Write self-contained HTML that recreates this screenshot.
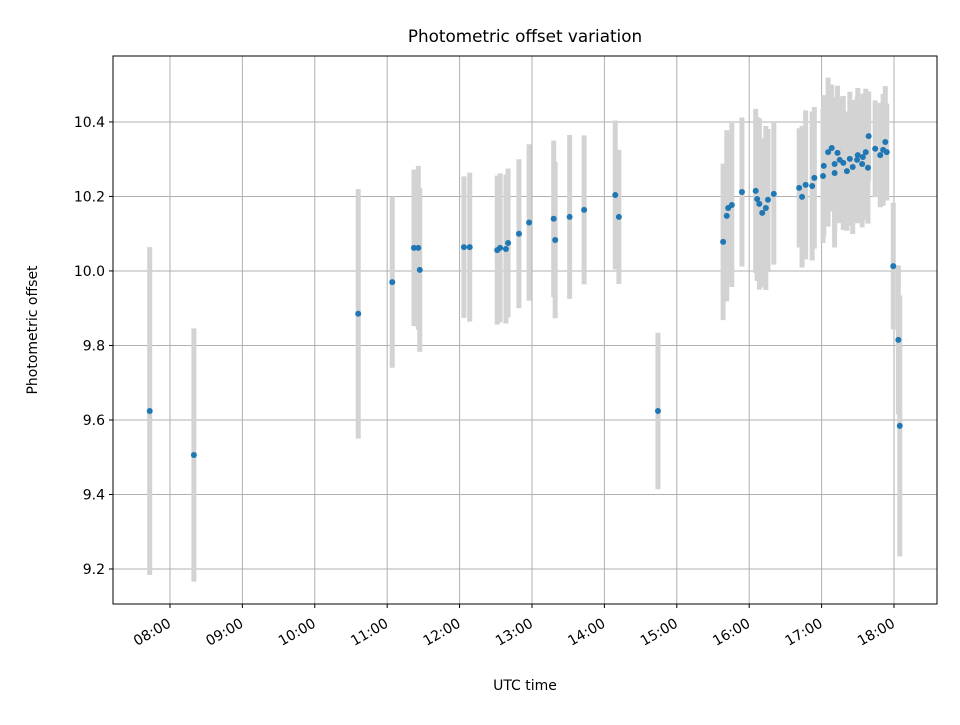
<!DOCTYPE html>
<html><head><meta charset="utf-8"><style>
body{margin:0;background:#fff;font-family:"Liberation Sans","DejaVu Sans",sans-serif}
svg text{font-family:"DejaVu Sans","Liberation Sans",sans-serif;fill:#000}
</style></head><body>
<svg id="chart" width="960" height="720" viewBox="0 0 960 720" xmlns="http://www.w3.org/2000/svg">
<rect width="960" height="720" fill="#fff"/>
<text x="525" y="42" text-anchor="middle" font-size="16.8">Photometric offset variation</text>
<text x="525" y="690" text-anchor="middle" font-size="14">UTC time</text>
<text transform="translate(37,330) rotate(-90)" text-anchor="middle" font-size="14">Photometric offset</text>
<g id="grid"></g>
<g id="bars"></g>
<g id="pts"></g>
<g id="ticks"></g>
<rect x="113" y="56" width="824" height="548" fill="none" stroke="#000" stroke-width="1"/>
</svg>
<script>
const times=[7.72,8.33,10.60,11.07,11.37,11.43,11.45,12.06,12.14,12.52,12.56,12.64,12.67,12.82,12.96,13.30,13.32,13.52,13.72,14.15,14.20,14.74,
15.64,15.69,15.71,15.76,15.90,16.09,16.11,16.14,16.18,16.23,16.26,16.34,16.69,16.73,16.78,16.87,16.90,17.02,17.03,17.09,17.14,17.18,17.18,17.22,17.25,17.30,17.35,17.39,17.43,17.49,17.50,17.56,17.57,17.61,17.64,17.65,17.74,17.81,17.85,17.88,17.90,17.99,18.06,18.08];
const offsets=[9.624,9.506,9.885,9.970,10.062,10.062,10.003,10.064,10.064,10.056,10.062,10.059,10.075,10.100,10.130,10.140,10.083,10.145,10.164,10.204,10.145,9.624,
10.078,10.148,10.169,10.177,10.212,10.215,10.193,10.180,10.156,10.169,10.191,10.207,10.223,10.199,10.231,10.228,10.250,10.255,10.282,10.319,10.330,10.263,10.287,10.317,10.298,10.290,10.268,10.301,10.279,10.298,10.311,10.287,10.306,10.319,10.277,10.362,10.328,10.311,10.325,10.346,10.319,10.013,9.815,9.584];
const errors=[0.44,0.34,0.335,0.23,0.21,0.22,0.22,0.19,0.2,0.2,0.2,0.2,0.2,0.2,0.21,0.21,0.21,0.22,0.2,0.2,0.18,0.21,
0.21,0.23,0.2,0.22,0.2,0.22,0.22,0.23,0.2,0.22,0.19,0.19,0.16,0.19,0.2,0.2,0.19,0.18,0.19,0.2,0.17,0.2,0.18,0.18,0.17,0.18,0.16,0.18,0.18,0.17,0.18,0.17,0.17,0.17,0.15,0.12,0.13,0.14,0.15,0.15,0.13,0.17,0.2,0.35];
const xTickLabels=["08:00","09:00","10:00","11:00","12:00","13:00","14:00","15:00","16:00","17:00","18:00"];
const xTickHours=[8,9,10,11,12,13,14,15,16,17,18];
const yTickLabels=["9.2","9.4","9.6","9.8","10.0","10.2","10.4"];
const yTickValues=[9.2,9.4,9.6,9.8,10.0,10.2,10.4];
const NS="http://www.w3.org/2000/svg";
const X0=113,X1=937,Y0=56,Y1=604,TMIN=7.213,TMAX=18.594,VMIN=9.106,VMAX=10.577;
const xs=t=>X0+(t-TMIN)/(TMAX-TMIN)*(X1-X0);
const ys=v=>Y1-(v-VMIN)/(VMAX-VMIN)*(Y1-Y0);
function mk(tag,attrs,parent){const e=document.createElementNS(NS,tag);for(const k in attrs)e.setAttribute(k,attrs[k]);parent.appendChild(e);return e;}
const grid=document.getElementById('grid'),ticks=document.getElementById('ticks'),bars=document.getElementById('bars'),pts=document.getElementById('pts');
xTickHours.forEach((h,i)=>{const x=xs(h);
 const g=mk('line',{x1:x,x2:x,y1:Y0,y2:Y1,stroke:'#b0b0b0','stroke-width':1},grid);
 
 const t=mk('line',{x1:x,x2:x,y1:Y1,y2:Y1+4,stroke:'#000'},ticks);
 
 const l=mk('text',{transform:`translate(${x+2},${Y1+22}) rotate(-30)`,'text-anchor':'end','font-size':14},ticks);
 l.textContent=xTickLabels[i];
 
});
yTickValues.forEach((v,i)=>{const y=ys(v);
 const g=mk('line',{x1:X0,x2:X1,y1:y,y2:y,stroke:'#b0b0b0','stroke-width':1},grid);
 
 const t=mk('line',{x1:X0-4,x2:X0,y1:y,y2:y,stroke:'#000'},ticks);
 
 const l=mk('text',{x:X0-8,y:y+5,'text-anchor':'end','font-size':14},ticks);
 l.textContent=yTickLabels[i];
 
});
times.forEach((t,i)=>{const x=xs(t);
 const b=mk('line',{x1:x,x2:x,y1:ys(offsets[i]+errors[i]),y2:ys(offsets[i]-errors[i]),stroke:'#d3d3d3','stroke-width':5},bars);
 
});
times.forEach((t,i)=>{
 const c=mk('circle',{cx:xs(t),cy:ys(offsets[i]),r:3,fill:'#1f77b4'},pts);
 
});
</script>
</body></html>
